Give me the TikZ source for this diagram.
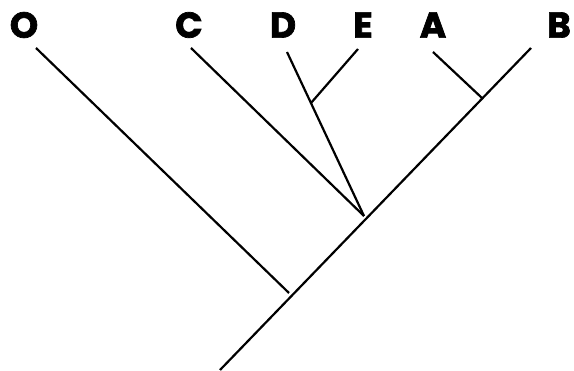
\documentclass[tikz,border=0pt]{standalone}
\usepackage{fontspec}
\setmainfont{Poppins}[BoldFeatures={FakeBold=2}]
\begin{document}
\begin{tikzpicture}[x=1pt,y=-1pt,
  branch/.style={line width=2.2pt, black, line cap=butt},
  taxon/.style={font=\fontsize{36}{36}\selectfont\bfseries, inner sep=0pt, anchor=center}]
\useasboundingbox (0,0) rectangle (574,371);
% labels
\node[taxon] (O) at (24,25) {O};
\node[taxon] (C) at (189,25) {C};
\node[taxon] (D) at (283,25) {D};
\node[taxon] (E) at (363,25) {E};
\node[taxon] (A) at (433,25) {A};
\node[taxon] (B) at (559,25) {B};
% tips
\coordinate (tO) at (36,48);
\coordinate (tC) at (191,48);
\coordinate (tD) at (287,52);
\coordinate (tE) at (358,49);
\coordinate (tA) at (433,52);
\coordinate (tB) at (531,48);
% internal nodes
\coordinate (root) at (220,370);
\coordinate (nO) at (289,293);
\coordinate (nCD) at (364,216);
\coordinate (nDE) at (311,103);
\coordinate (nAB) at (482,98);
% branches
\draw[branch] (root) -- (tB);
\draw[branch] (tO) -- (nO);
\draw[branch] (tC) -- (nCD);
\draw[branch] (tD) -- (nCD);
\draw[branch] (tE) -- (nDE);
\draw[branch] (tA) -- (nAB);
\end{tikzpicture}
\end{document}
